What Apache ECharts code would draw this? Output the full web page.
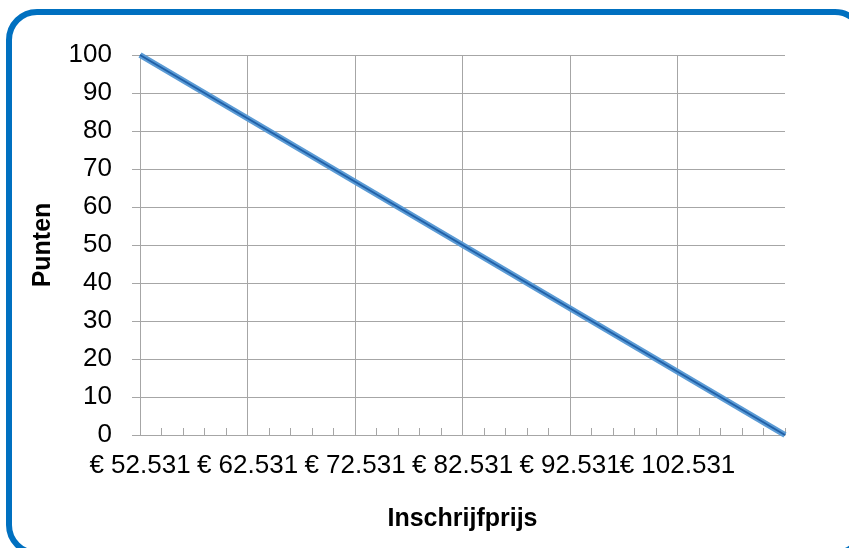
<!DOCTYPE html>
<html>
<head>
<meta charset="utf-8">
<script src="https://cdn.jsdelivr.net/npm/echarts@6/dist/echarts.min.js"></script>
<style>
  html, body { margin: 0; padding: 0; background: #fff; }
  #chart { width: 849px; height: 548px; }
</style>
</head>
<body>
<div id="chart"></div>
<script>
// prijs (inschrijving) tegen punten
const prijzen = [52531, 112531]
const punten = [100, 0]
const prijsStart = 52531
const prijsEinde = 112531
const prijsStap = 10000

const fmtEuro = (v) => '€ ' + String(v).replace(/\B(?=(\d{3})+(?!\d))/g, '.')

// de x-as loopt vanaf 0 zodat ticks op de juiste plek komen
const lijnData = prijzen.map((p, i) => [p - prijsStart, punten[i]])

const myChart = echarts.init(document.getElementById('chart'))
const gridKleur = '#a6a6a6'
const font = 'Liberation Sans'

const option = {
  animation: false,
  graphic: [
    {
      type: 'rect',
      shape: { x: 9, y: 12, width: 854, height: 541, r: 28 },
      style: { fill: 'none', stroke: '#0070c0', lineWidth: 6 },
      z: 100
    }
  ],
  grid: { left: 140, right: 64, top: 55, bottom: 113 },
  xAxis: {
    type: 'value',
    min: 0,
    max: prijsEinde - prijsStart,
    interval: prijsStap,
    name: 'Inschrijfprijs',
    nameLocation: 'middle',
    nameGap: 72,
    nameTextStyle: { fontFamily: font, fontWeight: 'bold', fontSize: 25, color: '#000' },
    axisLine: { lineStyle: { color: gridKleur } },
    axisTick: { show: true, inside: true, length: 7, lineStyle: { color: gridKleur } },
    minorTick: { show: true, splitNumber: 5, length: 7, lineStyle: { color: gridKleur } },
    splitLine: { show: true, showMaxLine: false, lineStyle: { color: gridKleur } },
    axisLabel: {
      fontFamily: font, fontSize: 26, color: '#000', margin: 18,
      showMaxLabel: false,
      formatter: (v) => fmtEuro(v + prijsStart)
    }
  },
  yAxis: {
    type: 'value',
    min: 0,
    max: 100,
    interval: 10,
    name: 'Punten',
    nameLocation: 'middle',
    nameGap: 84,
    nameTextStyle: { fontFamily: font, fontWeight: 'bold', fontSize: 25, color: '#000' },
    axisLine: { show: true, lineStyle: { color: gridKleur } },
    axisTick: { show: true, length: 8, lineStyle: { color: gridKleur } },
    splitLine: { show: true, lineStyle: { color: gridKleur } },
    axisLabel: { fontFamily: font, fontSize: 26, color: '#000', margin: 28 }
  },
  series: [
    {
      type: 'line',
      data: lijnData,
      symbol: 'none',
      lineStyle: { color: '#5b9bd5', width: 6 }
    },
    {
      type: 'line',
      data: lijnData,
      symbol: 'none',
      lineStyle: { color: '#2060a8', width: 2 }
    }
  ]
}
myChart.setOption(option)
</script>
</body>
</html>
